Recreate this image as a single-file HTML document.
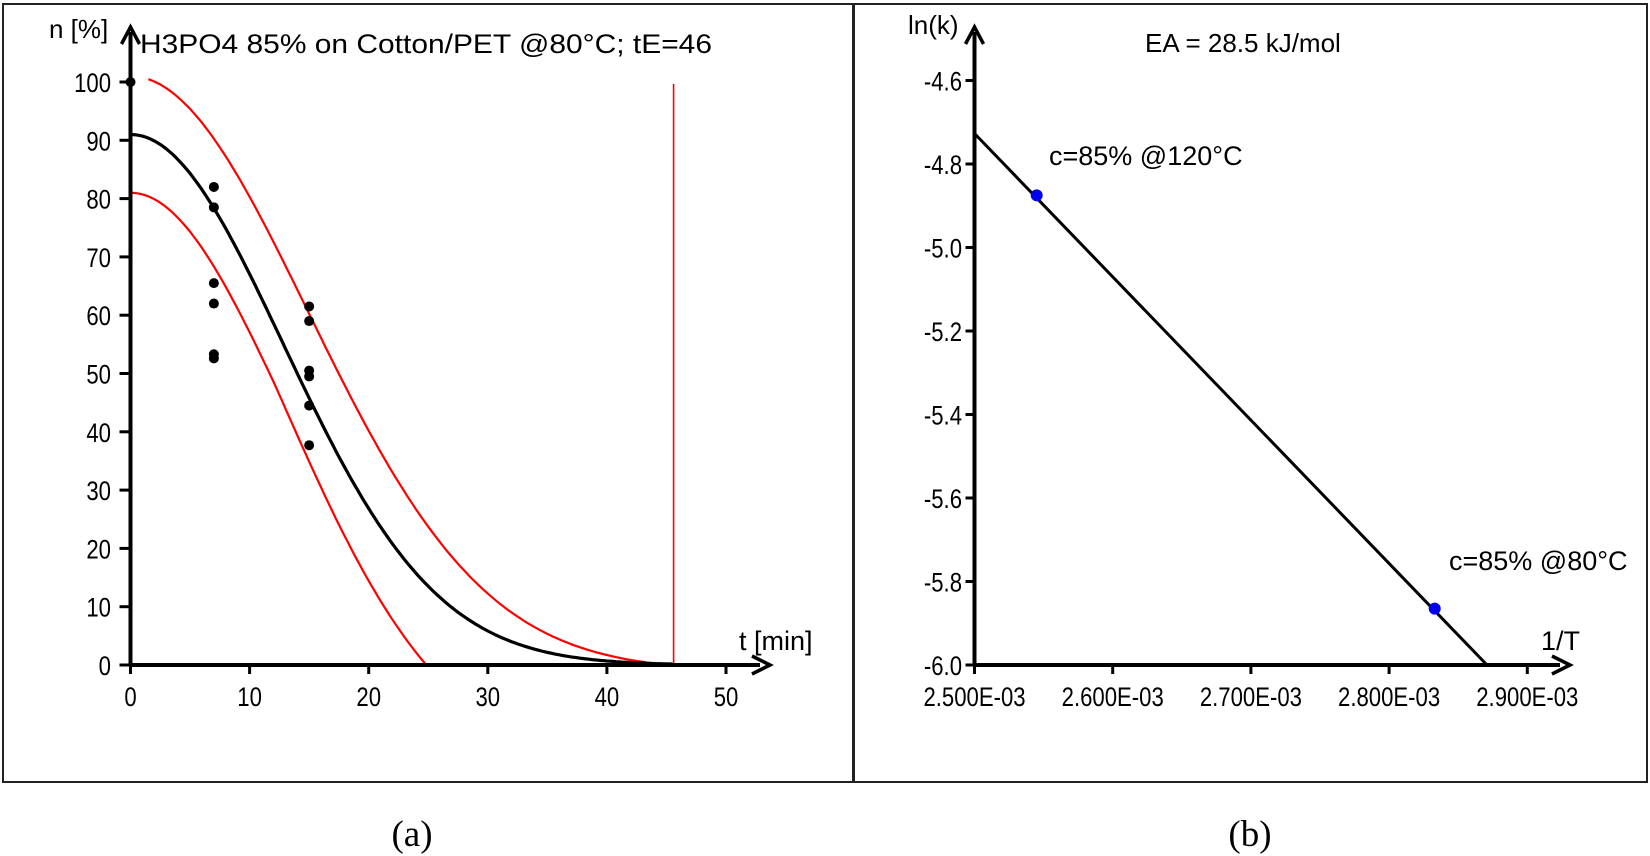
<!DOCTYPE html>
<html><head><meta charset="utf-8">
<style>
html,body{margin:0;padding:0;background:#fff;}
svg{display:block;font-family:"Liberation Sans",sans-serif;}
</style></head>
<body>
<svg id="s" width="1650" height="856" viewBox="0 0 1650 856" xmlns="http://www.w3.org/2000/svg">
<rect x="3" y="4" width="850" height="778" fill="none" stroke="#222" stroke-width="2"/>
<rect x="854" y="4" width="793" height="778" fill="none" stroke="#222" stroke-width="2"/>
<g id="a"></g>
<g id="b"></g>
<text x="412" y="846" font-family="Liberation Serif,serif" font-size="37" text-anchor="middle">(a)</text>
<text x="1250" y="846" font-family="Liberation Serif,serif" font-size="37" text-anchor="middle">(b)</text>
</svg>
<script>
const NS="http://www.w3.org/2000/svg";
function el(p,t,a,txt){const e=document.createElementNS(NS,t);for(const k in a)e.setAttribute(k,a[k]);if(txt!==undefined)e.textContent=txt;p.appendChild(e);return e;}
function tk(p,x,y,txt,anchor){const g=el(p,'g',{transform:`translate(${x},${y}) scale(0.82,1)`});el(g,'text',{x:0,y:0,'font-size':27,'text-anchor':anchor},txt);}
// Panel A
const A=document.getElementById('a');
const x0=130.5,y0=665,sx=119.1/10,sy=58.3/10;
const X=t=>x0+t*sx,Y=v=>y0-v*sy;
function path(f,t0,t1,stroke,w){let d="";for(let t=t0;t<=t1+1e-9;t+=0.25){let v=f(t);if(v<0)v=0;d+=(d?"L":"M")+X(t).toFixed(1)+","+Y(v).toFixed(1);}el(A,'path',{d:d,fill:'none',stroke:stroke,'stroke-width':w});}
const blk=t=>91*Math.exp(-Math.pow(t/18.1,2));
path(t=>102*Math.exp(-Math.pow(t/21,2))-1,1.5,45.6,'#f00',2.2);
path(t=>{let v=blk(t)-10-0.3*Math.max(0,t-12);return t>=25?0:v;},0,25.2,'#f00',2.2);
path(blk,0,45.5,'#000',3.2);
el(A,'line',{x1:X(45.6),y1:84,x2:X(45.6),y2:y0,stroke:'#f00','stroke-width':1.6});
el(A,'line',{x1:x0,y1:y0,x2:760,y2:y0,stroke:'#000','stroke-width':4});
el(A,'line',{x1:x0,y1:y0,x2:x0,y2:32,stroke:'#000','stroke-width':4});
el(A,'path',{d:`M${x0-9},44 L${x0},27 L${x0+9},44`,fill:'none',stroke:'#000','stroke-width':3.5});
el(A,'path',{d:`M752,${y0-9} L770,${y0} L752,${y0+9}`,fill:'none',stroke:'#000','stroke-width':3.5});
for(let v=0;v<=100;v+=10){el(A,'line',{x1:x0-11,y1:Y(v),x2:x0,y2:Y(v),stroke:'#000','stroke-width':3});tk(A,111,Y(v)+10,v,'end');}
for(let t=0;t<=50;t+=10){el(A,'line',{x1:X(t),y1:y0,x2:X(t),y2:y0+9,stroke:'#000','stroke-width':3});tk(A,X(t),y0+41,t,'middle');}
el(A,'text',{x:49,y:38,'font-size':26},'n [%]');
el(A,'text',{x:140,y:53,'font-size':27,textLength:572,lengthAdjust:'spacingAndGlyphs'},'H3PO4 85% on Cotton/PET @80°C; tE=46');
el(A,'text',{x:739,y:650,'font-size':27},'t [min]');
[[0,100],[7,82],[7,78.5],[7,65.5],[7,62],[7,53.3],[7,52.6],[15,61.5],[15,59],[15,50.5],[15,49.5],[15,44.5],[15,37.7]].forEach(p=>el(A,'circle',{cx:X(p[0]),cy:Y(p[1]),r:5,fill:'#000'}));
// Panel B
const B=document.getElementById('b');
const bx0=974.5,by0=665,bsx=138.2/0.1e-3,bsy=83.5/0.2;
const BX=v=>bx0+(v-2.5e-3)*bsx,BY=v=>by0-(v+6.0)*bsy;
el(B,'line',{x1:bx0,y1:by0,x2:1560,y2:by0,stroke:'#000','stroke-width':4});
el(B,'line',{x1:bx0,y1:by0,x2:bx0,y2:32,stroke:'#000','stroke-width':4});
el(B,'path',{d:`M${bx0-9},44 L${bx0},27 L${bx0+9},44`,fill:'none',stroke:'#000','stroke-width':3.5});
el(B,'path',{d:`M1552,${by0-9} L1570,${by0} L1552,${by0+9}`,fill:'none',stroke:'#000','stroke-width':3.5});
for(let i=0;i<=7;i++){const v=-6.0+0.2*i;el(B,'line',{x1:bx0-9,y1:BY(v),x2:bx0,y2:BY(v),stroke:'#000','stroke-width':3});tk(B,962,BY(v)+10,v.toFixed(1),'end');}
for(let i=0;i<=4;i++){const v=2.5e-3+i*1e-4;el(B,'line',{x1:BX(v),y1:by0,x2:BX(v),y2:by0+9,stroke:'#000','stroke-width':3});tk(B,BX(v),by0+41,(2.5+i*0.1).toFixed(3)+'E-03','middle');}
el(B,'line',{x1:bx0,y1:133.5,x2:1487,y2:by0,stroke:'#000','stroke-width':3});
el(B,'circle',{cx:BX(2.545e-3),cy:BY(-4.875),r:6,fill:'#0000ee'});
el(B,'circle',{cx:BX(2.833e-3),cy:BY(-5.865),r:6,fill:'#0000ee'});
el(B,'text',{x:908,y:34,'font-size':26},'ln(k)');
el(B,'text',{x:1145,y:52,'font-size':26},'EA = 28.5 kJ/mol');
el(B,'text',{x:1049,y:165,'font-size':27},'c=85% @120°C');
el(B,'text',{x:1449,y:570,'font-size':27},'c=85% @80°C');
el(B,'text',{x:1541,y:650,'font-size':27},'1/T');
</script>
</body></html>
